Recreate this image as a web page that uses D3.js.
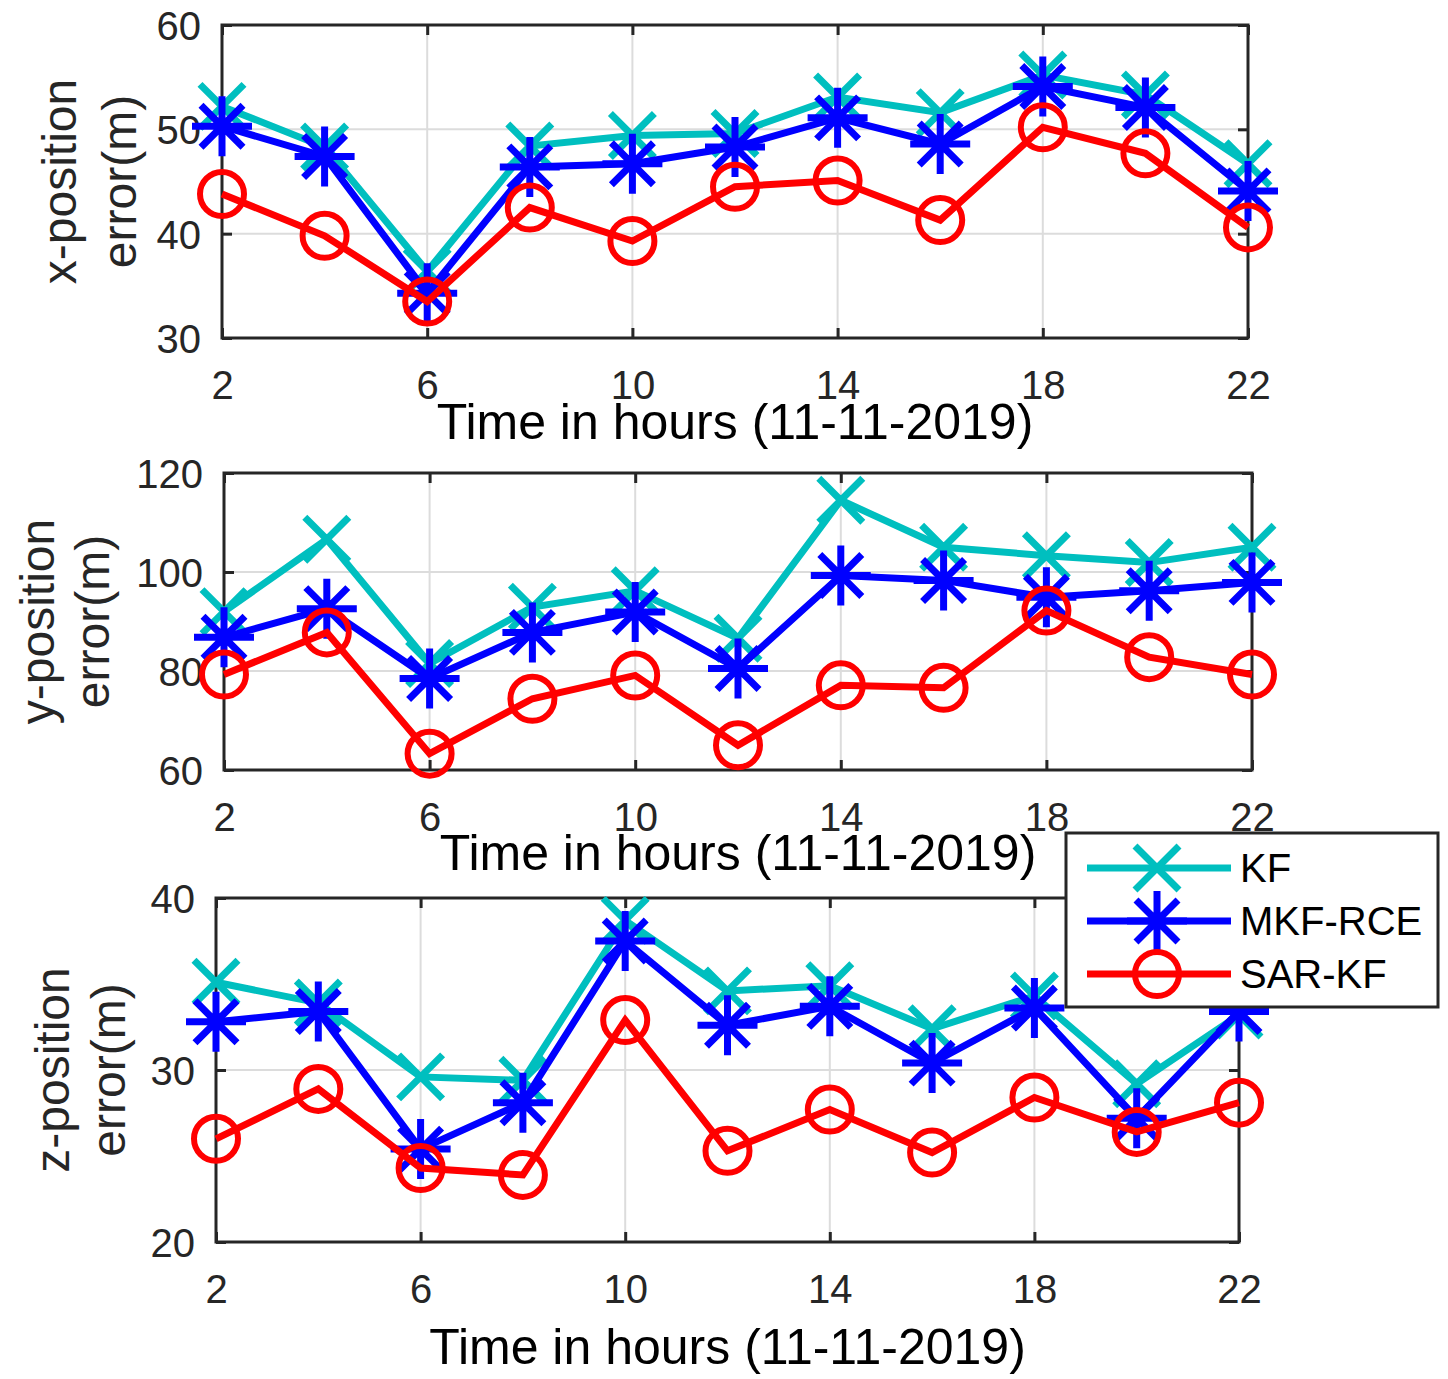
<!DOCTYPE html>
<html>
<head>
<meta charset="utf-8">
<script src="https://cdn.jsdelivr.net/npm/d3@7"></script>
<style>
  body { margin: 0; background: #fff; }
  svg { display: block; font-family: "Liberation Sans", Arial, Helvetica, sans-serif; }
</style>
</head>
<body>
<svg id="chart" width="1448" height="1379"></svg>
<script>
// data
const hours = [2, 4, 6, 8, 10, 12, 14, 16, 18, 20, 22];
const xTicks = [2, 6, 10, 14, 18, 22];

const kfX = [52.2, 48.3, 36.4, 48.4, 49.4, 49.6, 53.1, 51.6, 55.2, 53.3, 46.7];
const mkfX = [50.3, 47.4, 34.3, 46.4, 46.7, 48.3, 51.1, 48.6, 54.1, 52.1, 44.1];
const sarX = [43.8, 39.8, 33.5, 42.5, 39.3, 44.5, 45.1, 41.3, 50.2, 47.7, 40.6];

const kfY = [92, 106.6, 81.5, 92.9, 96.2, 86.6, 114.5, 105, 103.3, 101.9, 105];
const mkfY = [86.8, 92.6, 78.5, 87.8, 91.9, 80.5, 99.3, 98.3, 94.9, 96.2, 97.9];
const sarY = [79.3, 87.8, 63.3, 74.4, 79.1, 65.0, 77.1, 76.6, 92.2, 82.8, 79.3];

const kfZ = [35.1, 33.9, 29.6, 29.4, 38.7, 34.6, 34.9, 32.4, 34.3, 29.2, 33.2];
const mkfZ = [32.8, 33.4, 25.4, 28.1, 37.5, 32.6, 33.7, 30.4, 33.6, 27.2, 33.4];
const sarZ = [26.0, 28.9, 24.3, 23.9, 32.9, 25.3, 27.7, 25.2, 28.4, 26.4, 28.1];

const seriesNames = ["KF", "MKF-RCE", "SAR-KF"];
const xLabel = "Time in hours (11-11-2019)";

const COLORS = { "KF": "#00bfbf", "MKF-RCE": "#0000ff", "SAR-KF": "#ff0000" };
const AXIS_COLOR = "#262626";

// one entry per subplot (box in pixels)
const panels = [
  { left: 222, right: 1248, top: 25, bottom: 338, yDomain: [30, 60], yTicks: [30, 40, 50, 60],
    label: ["x-position", "error(m)"], labelX: [59, 119], xlabOffset: 101,
    values: [kfX, mkfX, sarX] },
  { left: 224, right: 1252, top: 473, bottom: 770, yDomain: [60, 120], yTicks: [60, 80, 100, 120],
    label: ["y-position", "error(m)"], labelX: [37, 92], xlabOffset: 100,
    values: [kfY, mkfY, sarY] },
  { left: 216, right: 1239, top: 898, bottom: 1242, yDomain: [20, 40], yTicks: [20, 30, 40],
    label: ["z-position", "error(m)"], labelX: [52, 108], xlabOffset: 122,
    values: [kfZ, mkfZ, sarZ] }
];

const svg = d3.select("#chart");

// marker shapes
function markerPath(name) {
  if (name === "KF") {
    const s = 22;
    return `M${-s},${-s}L${s},${s}M${-s},${s}L${s},${-s}`;
  }
  if (name === "MKF-RCE") {
    const r = 30, d = 21;
    return `M${-r},0L${r},0M0,${-r}L0,${r}M${-d},${-d}L${d},${d}M${-d},${d}L${d},${-d}`;
  }
  return null;
}

function drawMarker(g, name, x, y) {
  if (name === "SAR-KF") {
    g.append("circle")
      .attr("cx", x).attr("cy", y).attr("r", 22)
      .attr("fill", "none")
      .attr("stroke", COLORS[name])
      .attr("stroke-width", 6);
  } else {
    g.append("path")
      .attr("transform", `translate(${x},${y})`)
      .attr("d", markerPath(name))
      .attr("fill", "none")
      .attr("stroke", COLORS[name])
      .attr("stroke-width", 7);
  }
}

panels.forEach((p) => {
  const xScale = d3.scaleLinear().domain([2, 22]).range([p.left, p.right]);
  const yScale = d3.scaleLinear().domain(p.yDomain).range([p.bottom, p.top]);

  const g = svg.append("g");

  // grid
  g.selectAll(".vgrid")
    .data(xTicks)
    .join("line")
    .attr("x1", (d) => xScale(d)).attr("x2", (d) => xScale(d))
    .attr("y1", p.top).attr("y2", p.bottom)
    .attr("stroke", "#dcdcdc").attr("stroke-width", 2);
  g.selectAll(".hgrid")
    .data(p.yTicks)
    .join("line")
    .attr("x1", p.left).attr("x2", p.right)
    .attr("y1", (d) => yScale(d)).attr("y2", (d) => yScale(d))
    .attr("stroke", "#dcdcdc").attr("stroke-width", 2);

  // axes with inward ticks, mirrored on all four sides
  const tickLen = 10;
  const axB = d3.axisBottom(xScale).tickValues(xTicks).tickSize(-tickLen).tickPadding(33).tickFormat(d3.format("d"));
  const axT = d3.axisTop(xScale).tickValues(xTicks).tickSize(-tickLen).tickFormat("");
  const axL = d3.axisLeft(yScale).tickValues(p.yTicks).tickSize(-tickLen).tickPadding(21).tickFormat(d3.format("d"));
  const axR = d3.axisRight(yScale).tickValues(p.yTicks).tickSize(-tickLen).tickFormat("");

  const styleAxis = (sel) => {
    sel.select(".domain").remove();
    sel.selectAll(".tick line").attr("stroke", AXIS_COLOR).attr("stroke-width", 3);
    sel.selectAll(".tick text").attr("fill", AXIS_COLOR).style("font-size", "40px");
  };

  g.append("g").attr("transform", `translate(0,${p.bottom})`).call(axB).call(styleAxis)
    .selectAll(".tick text").attr("dy", "0.71em");
  g.append("g").attr("transform", `translate(0,${p.top})`).call(axT).call(styleAxis);
  g.append("g").attr("transform", `translate(${p.left},0)`).call(axL).call(styleAxis)
    .selectAll(".tick text").attr("dy", "0.36em");
  g.append("g").attr("transform", `translate(${p.right},0)`).call(axR).call(styleAxis);

  // box
  g.append("rect")
    .attr("x", p.left).attr("y", p.top)
    .attr("width", p.right - p.left).attr("height", p.bottom - p.top)
    .attr("fill", "none").attr("stroke", AXIS_COLOR).attr("stroke-width", 3);

  // series lines + markers
  const line = d3.line().x((d) => xScale(d[0])).y((d) => yScale(d[1]));
  seriesNames.forEach((name, i) => {
    const pts = hours.map((h, j) => [h, p.values[i][j]]);
    const sg = g.append("g");
    sg.append("path")
      .attr("d", line(pts))
      .attr("fill", "none")
      .attr("stroke", COLORS[name])
      .attr("stroke-width", 7)
      .attr("stroke-linejoin", "miter");
    pts.forEach((d) => drawMarker(sg, name, xScale(d[0]), yScale(d[1])));
  });

  // x label
  g.append("text")
    .attr("x", (p.left + p.right) / 2)
    .attr("y", p.bottom + p.xlabOffset)
    .attr("text-anchor", "middle")
    .attr("fill", "#000")
    .style("font-size", "50px")
    .text(xLabel);

  // y label (two lines, rotated)
  const cy = (p.top + p.bottom) / 2;
  p.label.forEach((t, k) => {
    g.append("text")
      .attr("transform", `translate(${p.labelX[k]},${cy}) rotate(-90)`)
      .attr("text-anchor", "middle")
      .attr("dy", "0.35em")
      .attr("fill", AXIS_COLOR)
      .style("font-size", "48px")
      .text(t);
  });
});

// legend
const legend = svg.append("g");
legend.append("rect")
  .attr("x", 1066).attr("y", 833)
  .attr("width", 372).attr("height", 174)
  .attr("fill", "#fff").attr("stroke", AXIS_COLOR).attr("stroke-width", 3);

const legendRows = d3.scalePoint().domain(seriesNames).range([868, 974]);
seriesNames.forEach((name) => {
  const y = legendRows(name);
  legend.append("line")
    .attr("x1", 1087).attr("x2", 1231)
    .attr("y1", y).attr("y2", y)
    .attr("stroke", COLORS[name]).attr("stroke-width", 7);
  drawMarker(legend, name, 1157, y);
  legend.append("text")
    .attr("x", 1240).attr("y", y)
    .attr("dy", "0.36em")
    .attr("fill", "#000")
    .style("font-size", "40px")
    .text(name);
});
</script>
</body>
</html>
